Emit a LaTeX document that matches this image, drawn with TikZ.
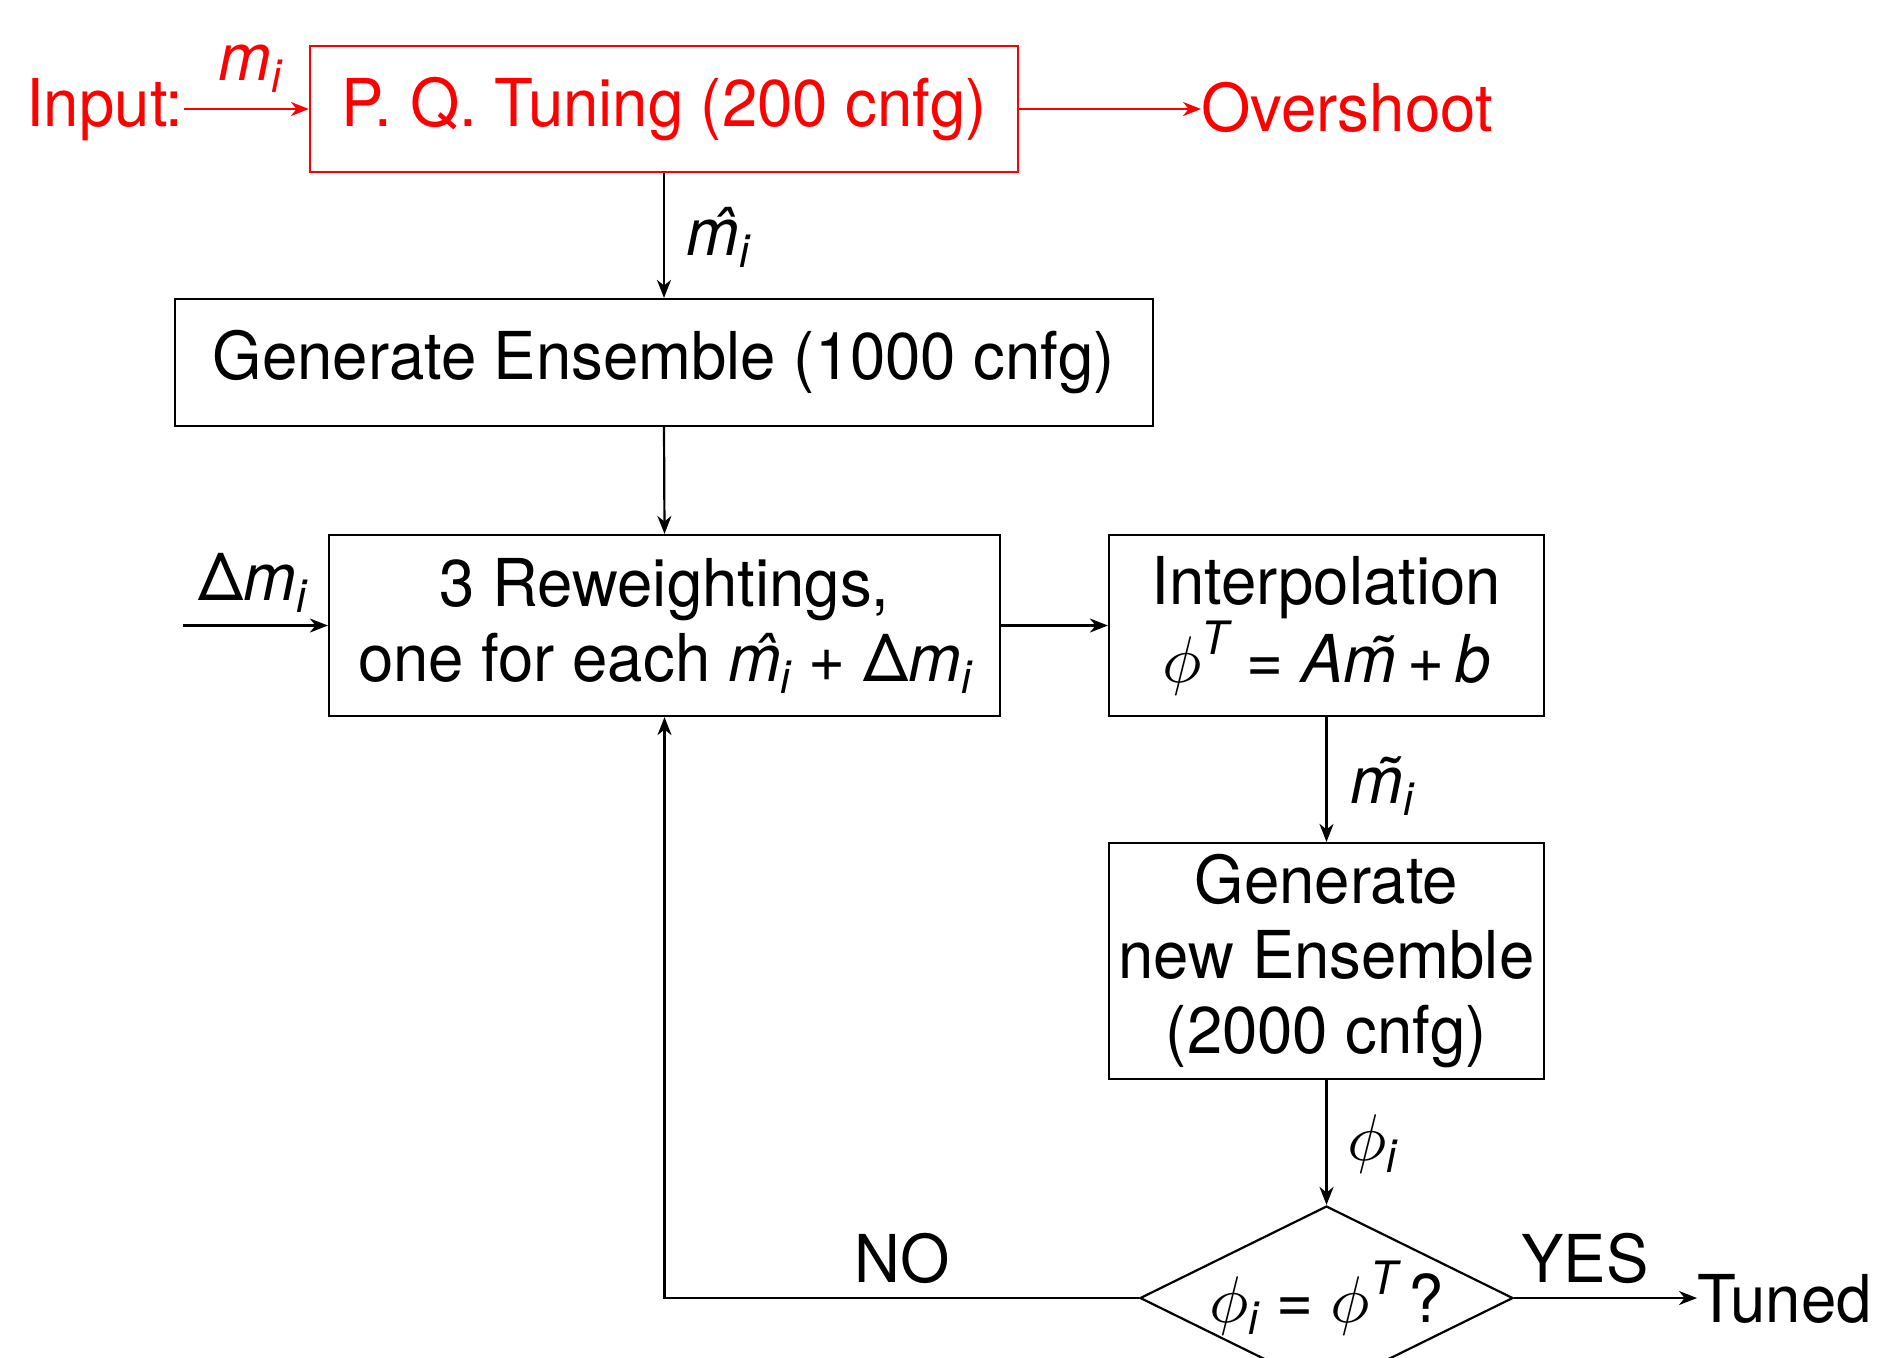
\documentclass[tikz,border=0pt]{standalone}
\usepackage{fontspec}
\setmainfont[FakeStretch=0.962]{TeX Gyre Heros}
\DeclareFontShape{OML}{cmm}{m}{it}{<->cmmi10}{}
\usetikzlibrary{arrows.meta,shapes.geometric}
\newcommand{\isub}{\raisebox{-6pt}{\fontsize{23}{23}\selectfont\itshape i}}
\newcommand{\Tsup}{\raisebox{14pt}{\fontsize{23}{23}\selectfont\itshape T}}
\newcommand{\mi}{\textit{m}\isub}
\newcommand{\hmi}{\textit{\^{m}}\isub}
\newcommand{\tmi}{\textit{\~{m}}\isub}
\newcommand{\Dmi}{Δ\textit{m}\isub}
\begin{document}
\begin{tikzpicture}[x=0.5pt,y=-0.5pt,
  every node/.style={font=\fontsize{33}{37.5}\selectfont},
  box/.style={draw, line width=1.1pt, inner sep=0pt, align=center},
  arr/.style={line width=1.1pt, -{Stealth[length=9pt,width=7pt,inset=2.8pt]}},
  lbl/.style={inner sep=0pt}]
\useasboundingbox (0,0) rectangle (1878,1357);
% boxes
\node[box, red, minimum width=354pt, minimum height=63pt] (pq) at (664,109) {P. Q. Tuning (200 cnfg)};
\node[box, minimum width=489pt, minimum height=63.5pt] (gen) at (664,362.5) {Generate Ensemble (1000 cnfg)};
\node[box, minimum width=335.5pt, minimum height=90.5pt] (rew) at (664.5,625.5) {3 Reweightings,\\ one for each \hmi{} + \Dmi};
\node[box, minimum width=217.5pt, minimum height=90.5pt] (int) at (1326.5,625.5) {Interpolation\\ $\phi$\Tsup{} = \textit{A}\textit{\~{m}}\,+\,\textit{b}};
\node[box, minimum width=217.5pt, minimum height=118pt] (new) at (1326.5,961) {Generate\\new Ensemble\\(2000 cnfg)};
\node[draw, diamond, aspect=2.03, line width=1.1pt, inner sep=0pt, minimum width=186.5pt, minimum height=92pt] (dec) at (1326.5,1298) {\makebox[0pt]{$\phi$\isub{} = $\phi$\Tsup\,?}};
% free texts
\node[lbl, red, anchor=base east] (inp) at (184,126) {Input:};
\node[lbl, red, anchor=base west] (ov) at (1201,131) {Overshoot};
\node[lbl, red, anchor=base west] (lmi) at (218,80) {\mi};
\node[lbl, anchor=base west] (lhm) at (686,255) {\hmi};
\node[lbl, anchor=base west] (ldm) at (198,600) {\Dmi};
\node[lbl, anchor=base west] (ltm) at (1350,803) {\tmi};
\node[lbl, anchor=base west] (lphi) at (1347,1160) {$\phi$\isub};
\node[lbl, anchor=base] (no) at (902,1282) {NO};
\node[lbl, anchor=base] (yes) at (1585,1282) {YES};
\node[lbl, anchor=base west] (tuned) at (1697,1322) {Tuned};
\coordinate (dmstart) at (183,625.5);
% connectors
\draw[arr, red] (inp.east |- pq.west) -- (pq.west);
\draw[arr, red] (pq.east) -- (ov.west |- pq.east);
\draw[arr] (pq.south) -- (gen.north);
\draw[arr] (gen.south) -- (rew.north);
\draw[arr] (dmstart) -- (rew.west);
\draw[arr] (rew.east) -- (int.west);
\draw[arr] (int.south) -- (new.north);
\draw[arr] (new.south) -- (dec.north);
\draw[arr] (dec.west) -| (rew.south);
\draw[arr] (dec.east) -- (tuned.west |- dec.east);
\end{tikzpicture}
\end{document}
